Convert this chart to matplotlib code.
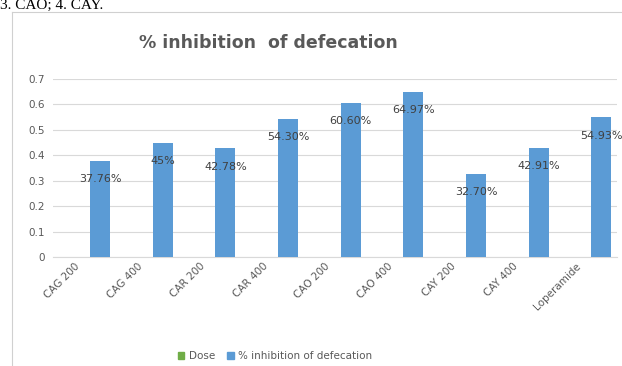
import numpy as np
import matplotlib.pyplot as plt
from matplotlib.lines import Line2D
from matplotlib.patches import Rectangle
from matplotlib.transforms import ScaledTranslation

# data
categories = ['CAG 200', 'CAG 400', 'CAR 200', 'CAR 400', 'CAO 200',
              'CAO 400', 'CAY 200', 'CAY 400', 'Loperamide']
inhibition = [0.3776, 0.45, 0.4278, 0.5430, 0.6060, 0.6497, 0.3270, 0.4291, 0.5493]
inhibition_labels = ['37.76%', '45%', '42.78%', '54.30%', '60.60%',
                     '64.97%', '32.70%', '42.91%', '54.93%']
dose = [0] * len(categories)
yticks = [0, 0.1, 0.2, 0.3, 0.4, 0.5, 0.6, 0.7]

grey = '#595959'
blue = '#5b9bd5'
green = '#70ad47'

fig = plt.figure(figsize=(6.22, 3.66), dpi=100)
ax = fig.add_axes([53 / 622, 1 - 257 / 366, 564 / 622, 178 / 366])

x = np.arange(len(categories))
ax.bar(x - 0.09, dose, width=0.32, color=green, label='Dose')
bars = ax.bar(x + 0.25, inhibition, width=0.32, color=blue,
              label='% inhibition of defecation', zorder=3)

for b, lab in zip(bars, inhibition_labels):
    ax.text(b.get_x() + b.get_width() / 2, b.get_height() - 0.072, lab,
            ha='center', va='center', fontsize=8, color='#404040', zorder=4)

ax.set_xlim(-0.5, 8.5)
ax.set_ylim(0, 0.7)
ax.set_yticks(yticks)
ax.set_yticklabels([('%g' % t) for t in yticks], fontsize=7.5, color=grey)
ax.set_xticks(x)
ax.set_xticklabels(categories, rotation=45, ha='right', rotation_mode='anchor',
                   fontsize=7.5, color=grey)
ax.tick_params(axis='both', length=0, pad=6)
ax.tick_params(axis='x', pad=3)
shift = ScaledTranslation(-10 / 100, 0, fig.dpi_scale_trans)
for lab in ax.get_xticklabels():
    lab.set_transform(lab.get_transform() + shift)
ax.grid(axis='y', color='#d9d9d9', linewidth=0.8, zorder=0)
for s in ['top', 'right', 'left']:
    ax.spines[s].set_visible(False)
ax.spines['bottom'].set_color('#d9d9d9')
ax.set_axisbelow(True)

fig.text(268 / 622, 1 - 43 / 366, '% inhibition  of defecation', ha='center', va='center',
         fontsize=12.5, fontweight='bold', color=grey)

# legend
handles = [Rectangle((0, 0), 1, 1, color=green), Rectangle((0, 0), 1, 1, color=blue)]
fig.legend(handles, ['Dose', '% inhibition of defecation'], loc='center',
           bbox_to_anchor=(275 / 622, 1 - 356 / 366), ncol=2, frameon=False,
           fontsize=7.5, handlelength=0.6, handleheight=0.6, handletextpad=0.4,
           columnspacing=1.2, labelcolor=grey)

# chart border (cropped)
fig.add_artist(Line2D([12 / 622, 12 / 622], [0, 1 - 12 / 366], color='#d0d0d0', lw=0.8))
fig.add_artist(Line2D([12 / 622, 1], [1 - 12 / 366, 1 - 12 / 366], color='#d0d0d0', lw=0.8))

# caption text from the page above the chart
fig.text(0.0, 1 - 9 / 366, '3. CAO; 4. CAY.', ha='left', va='baseline',
         fontsize=11, family='Liberation Serif', color='black')

fig.savefig('out.png', dpi=100)
